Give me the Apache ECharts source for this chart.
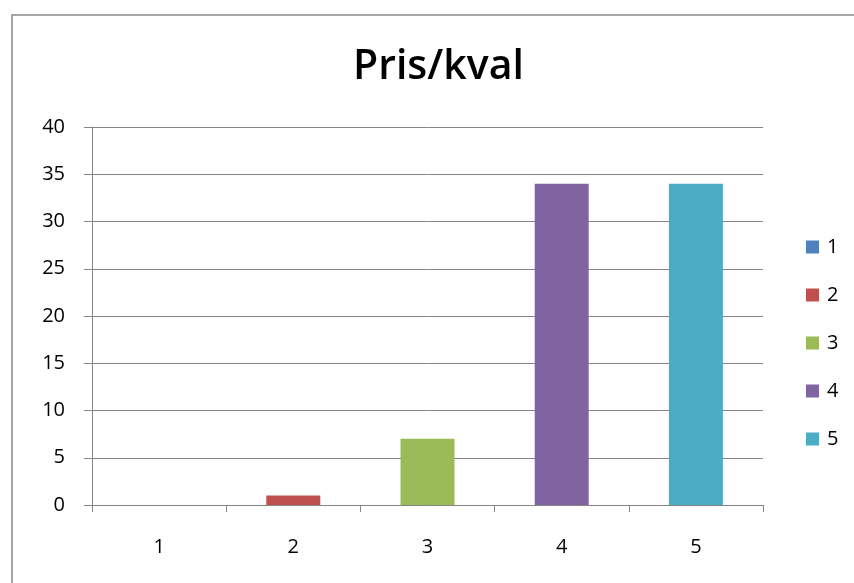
<!DOCTYPE html>
<html>
<head>
<meta charset="utf-8">
<title>Pris/kval</title>
<script src="https://cdn.jsdelivr.net/npm/echarts@6/dist/echarts.min.js"></script>
<style>
  html, body { margin: 0; padding: 0; background: #ffffff; }
  #chart { width: 854px; height: 583px; }
</style>
</head>
<body>
<div id="chart"></div>
<script>
// Rating categories on the x axis
const categories = ['1', '2', '3', '4', '5'];
// One series per rating, each holding its count at its own category
const seriesNames = ['1', '2', '3', '4', '5'];
const counts = [0, 1, 7, 34, 34];
const seriesColors = ['#4F81BD', '#C0504D', '#9BBB59', '#8064A2', '#4BACC6'];
// Y axis scale
const yMin = 0, yMax = 40, yStep = 5;

const fontFamily = '"Open Sans", "Liberation Sans", sans-serif';
const gridColor = '#858585';

const series = seriesNames.map((name, i) => ({
  name: name,
  type: 'bar',
  stack: 'ratings',
  barWidth: 54,
  itemStyle: { color: seriesColors[i] },
  data: categories.map((c, j) => (j === i ? counts[i] : '-'))
}));

const chart = echarts.init(document.getElementById('chart'), null, { renderer: 'canvas' });
chart.setOption({
  backgroundColor: '#ffffff',
  animation: false,
  title: {
    text: 'Pris/kval',
    left: 348,
    top: 38,
    textStyle: {
      fontFamily: fontFamily,
      fontSize: 41,
      fontWeight: 600,
      color: '#000000',
      lineHeight: 48
    }
  },
  legend: {
    orient: 'vertical',
    left: 801,
    top: 232,
    itemWidth: 13,
    itemHeight: 13,
    itemGap: 28,
    icon: 'rect',
    data: seriesNames,
    textStyle: {
      fontFamily: fontFamily,
      fontSize: 20,
      color: '#000000',
      lineHeight: 20,
      padding: [0, 0, 0, 3]
    }
  },
  grid: {
    left: 92,
    top: 127,
    right: 91,
    bottom: 78,
    containLabel: false
  },
  xAxis: {
    type: 'category',
    data: categories,
    axisLine: { show: true, lineStyle: { color: gridColor, width: 1 } },
    axisTick: { show: true, alignWithLabel: false, length: 7, lineStyle: { color: gridColor } },
    axisLabel: {
      margin: 32,
      fontFamily: fontFamily,
      fontSize: 20,
      color: '#000000'
    },
    splitLine: { show: false }
  },
  yAxis: {
    type: 'value',
    min: yMin,
    max: yMax,
    interval: yStep,
    axisLine: { show: true, lineStyle: { color: gridColor, width: 1 } },
    axisTick: { show: true, inside: false, length: 8, lineStyle: { color: gridColor } },
    axisLabel: {
      margin: 27,
      fontFamily: fontFamily,
      fontSize: 20,
      color: '#000000'
    },
    splitLine: { show: true, lineStyle: { color: gridColor, width: 1 } }
  },
  graphic: [{
    type: 'rect',
    silent: true,
    z: -1,
    shape: { x: 12, y: 15, width: 900, height: 700 },
    style: { fill: 'none', stroke: '#a6a6a6', lineWidth: 2 }
  }],
  series: series
});
</script>
</body>
</html>
